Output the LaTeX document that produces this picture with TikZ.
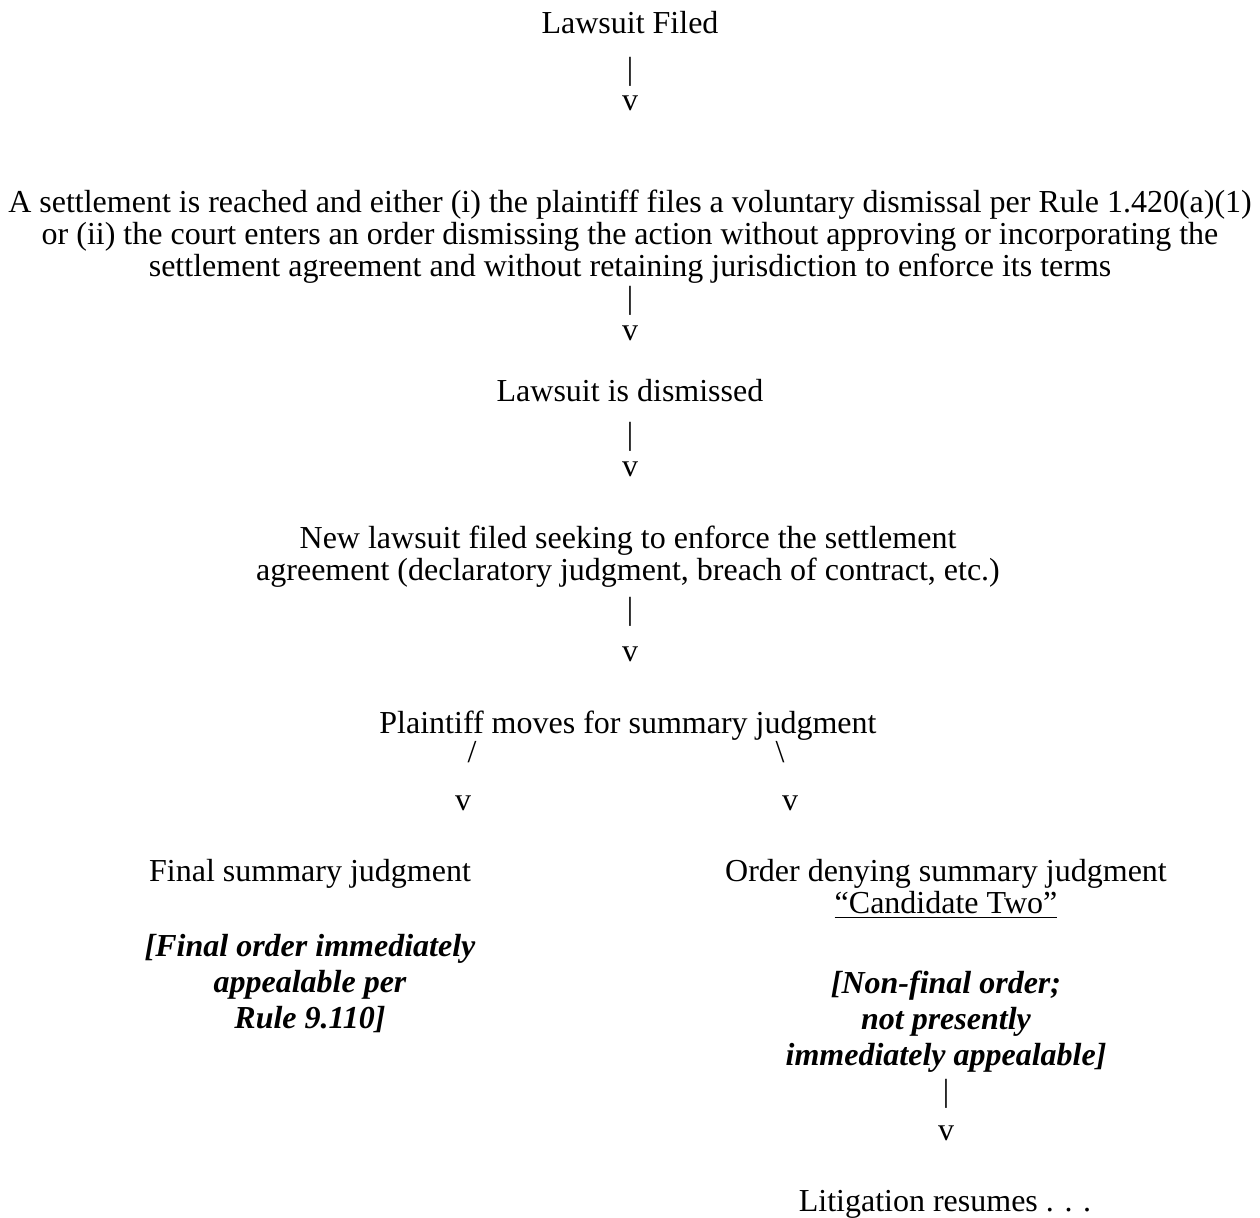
\documentclass[tikz,border=0pt]{standalone}
\usepackage{fontspec}
\setmainfont{Liberation Serif}
\begin{document}
\begin{tikzpicture}[x=0.5pt,y=-0.5pt,
  txt/.style={anchor=base,inner sep=0pt,align=center,font=\fontsize{16}{16}\selectfont},
  note/.style={anchor=base,inner sep=0pt,align=center,font=\fontsize{16}{18}\selectfont\bfseries\itshape}]
\useasboundingbox (0,0) rectangle (1260,1218);
\node[txt] (filed) at (630,33.5) {Lawsuit Filed};
\node[txt] (bar1) at (630,79.5) {|};
\node[txt] (v1) at (630,110.5) {v};
\node[txt] (settle) at (630,277) {A settlement is reached and either (i) the plaintiff files a voluntary dismissal per Rule 1.420(a)(1)\\or (ii) the court enters an order dismissing the action without approving or incorporating the\\settlement agreement and without retaining jurisdiction to enforce its terms};
\node[txt] (bar2) at (630,309) {|};
\node[txt] (v2) at (630,340.5) {v};
\node[txt] (dism) at (630,401.5) {Lawsuit is dismissed};
\node[txt] (bar3) at (630,445) {|};
\node[txt] (v3) at (630,476.5) {v};
\node[txt] (newsuit) at (628,581) {New lawsuit filed seeking to enforce the settlement\\agreement (declaratory judgment, breach of contract, etc.)};
\node[txt] (bar4) at (630,620) {|};
\node[txt] (v4) at (630,661.5) {v};
\node[txt] (plaintiff) at (628,733.5) {Plaintiff moves for summary judgment};
\node[txt] (slash) at (472,763) {/};
\node[txt] (bslash) at (780,763) {\textbackslash};
\node[txt] (vL) at (463,810.5) {v};
\node[txt] (vR) at (790,810.5) {v};
\node[txt] (final) at (310,881.5) {Final summary judgment};
\node[txt] (order) at (946,914) {Order denying summary judgment\\\underline{“Candidate Two”}};
\node[note] (finalnote) at (310,1029) {[Final order immediately\\appealable per\\Rule 9.110]};
\node[note] (ordernote) at (946,1066) {[Non-final order;\\not presently\\immediately appealable]};
\node[txt] (bar5) at (946,1102) {|};
\node[txt] (v5) at (946,1140.5) {v};
\node[txt] (lit) at (945,1211.5) {Litigation resumes . . .};
\end{tikzpicture}
\end{document}
